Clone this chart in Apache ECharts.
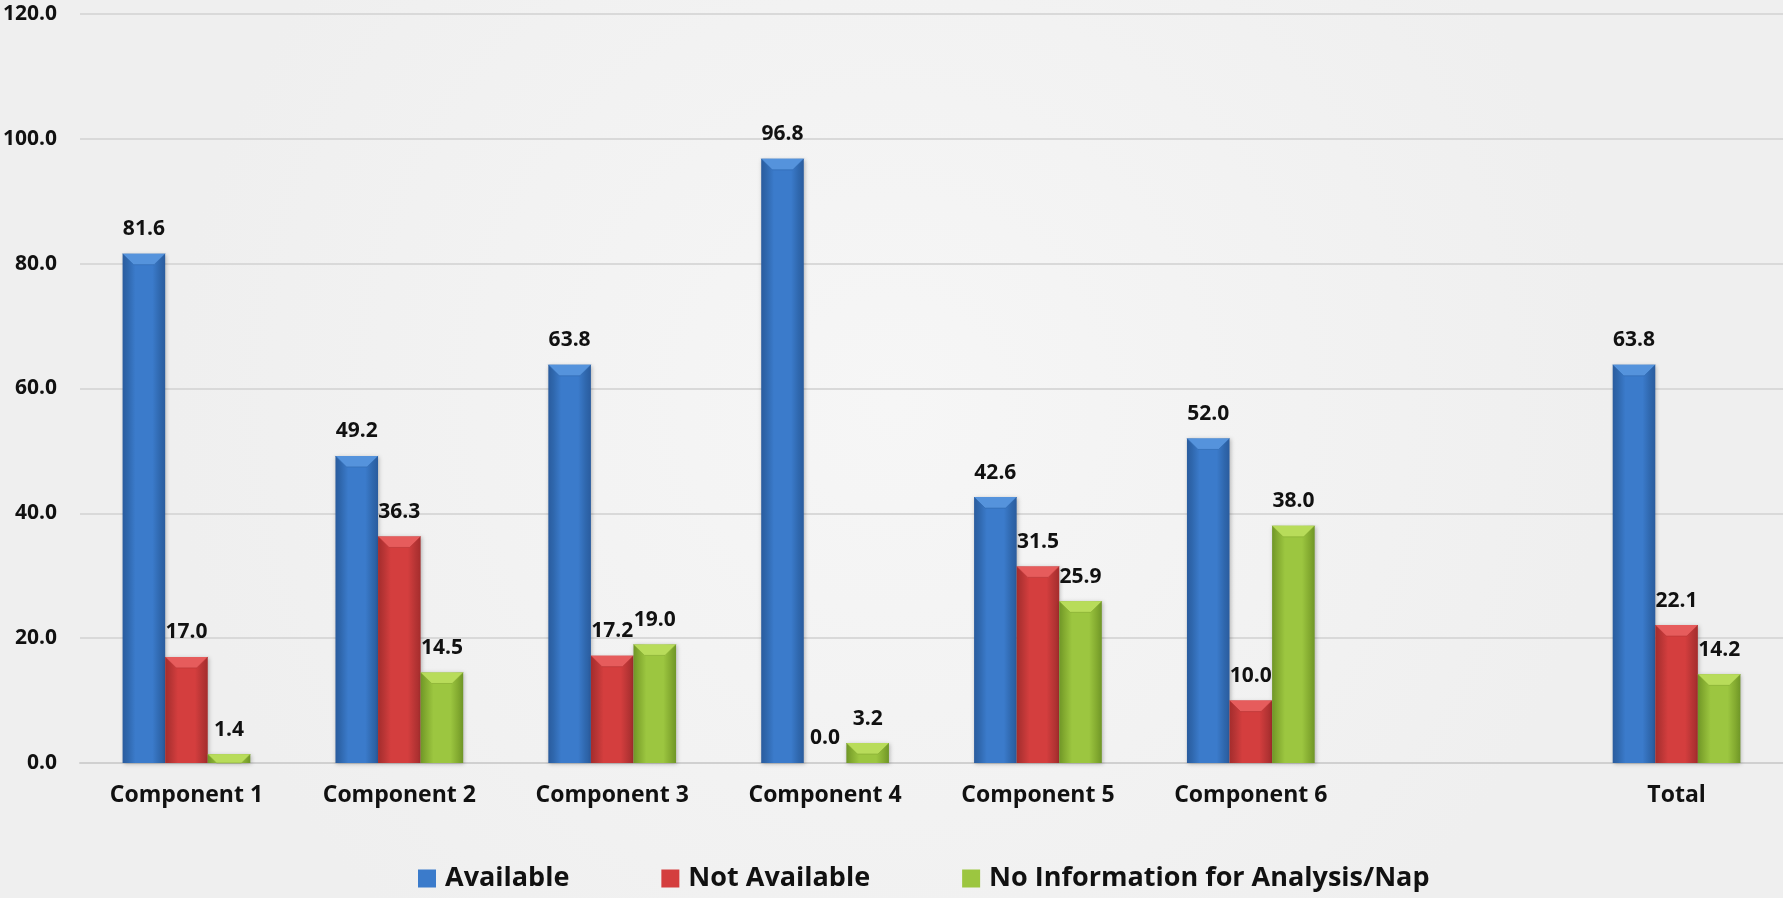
<!DOCTYPE html>
<html>
<head>
<meta charset="utf-8">
<script src="https://cdn.jsdelivr.net/npm/echarts@6/dist/echarts.min.js"></script>
<style>html,body{margin:0;padding:0;background:#f2f2f2;}#chart{width:1783px;height:898px;}</style>
</head>
<body>
<div id="chart"></div>
<script>
const categories = ['Component 1', 'Component 2', 'Component 3', 'Component 4', 'Component 5', 'Component 6', '', 'Total'];
const seriesNames = ['Available', 'Not Available', 'No Information for Analysis/Nap'];
const available = [81.6, 49.2, 63.8, 96.8, 42.6, 52.0, null, 63.8];
const notAvailable = [17.0, 36.3, 17.2, 0.0, 31.5, 10.0, null, 22.1];
const noInfo = [1.4, 14.5, 19.0, 3.2, 25.9, 38.0, null, 14.2];
const yTicks = [0, 20, 40, 60, 80, 100, 120];

const FONT = '"Open Sans", "Noto Sans", sans-serif';
const palettes = [
  { face: '#3b7bcb', dark: '#2a5c9e', light: '#5593dc', side: '#2f67ad' },
  { face: '#d43e3e', dark: '#a52c2c', light: '#e65c5c', side: '#b53434' },
  { face: '#9cc640', dark: '#6f9627', light: '#b8dc5a', side: '#83aa30' }
];
const valuesList = [available, notAvailable, noInfo];

function renderBar(params, api) {
  const sIdx = params.seriesIndex;
  const pal = palettes[sIdx];
  const idx = api.value(0);
  const v = api.value(1);
  const p0 = api.coord([idx, 0]);
  const p1 = api.coord([idx, v]);
  const band = api.size([1, 0])[0];
  const bw = band * 0.2;
  const x = p0[0] + (sIdx - 1) * bw - bw / 2;
  const yTop = p1[1];
  const yBot = p0[1];
  const h = yBot - yTop;
  const b = Math.max(0, Math.min(11, h, bw / 2));
  const grad = new echarts.graphic.LinearGradient(0, 0, 1, 0, [
    { offset: 0, color: pal.dark },
    { offset: 0.12, color: pal.side },
    { offset: 0.3, color: pal.face },
    { offset: 0.7, color: pal.face },
    { offset: 0.88, color: pal.side },
    { offset: 1, color: pal.dark }
  ]);
  const children = [
    {
      type: 'rect',
      shape: { x: x, y: yTop, width: bw, height: h },
      style: { fill: grad, shadowBlur: 4, shadowColor: 'rgba(0,0,0,0.25)', shadowOffsetX: 1, shadowOffsetY: 1 },
      textContent: {
        type: 'text',
        style: { text: v.toFixed(1), fontSize: 21, fontWeight: 'bold', fontFamily: FONT, fill: '#111' }
      },
      textConfig: { position: 'top', distance: 14 }
    }
  ];
  if (b > 0) {
    children.push({
      type: 'polygon',
      shape: { points: [[x, yTop], [x + bw, yTop], [x + bw - b, yTop + b], [x + b, yTop + b]] },
      style: { fill: pal.light }
    });
    children.push({
      type: 'polyline',
      shape: { points: [[x, yTop], [x + b, yTop + b], [x + bw - b, yTop + b], [x + bw, yTop]] },
      style: { stroke: pal.side, lineWidth: 1, fill: null, opacity: 0.6 }
    });
  }
  return { type: 'group', children: children };
}

function buildData(arr) {
  const out = [];
  arr.forEach(function (v, i) { if (v !== null) out.push([i, v]); });
  return out;
}

const chart = echarts.init(document.getElementById('chart'));
chart.setOption({
  backgroundColor: new echarts.graphic.RadialGradient(0.5, 0.45, 0.8, [
    { offset: 0, color: '#f6f6f6' },
    { offset: 1, color: '#efefef' }
  ]),
  animation: false,
  grid: { left: 79, right: 0, top: 14, bottom: 135, containLabel: false },
  legend: {
    bottom: 1,
    left: 413,
    itemWidth: 18,
    itemHeight: 18,
    itemGap: 92,
    icon: 'rect',
    data: seriesNames,
    textStyle: { fontSize: 27, fontWeight: 'bold', fontFamily: FONT, color: '#111', padding: [0, 0, 0, 4] }
  },
  xAxis: {
    type: 'category',
    data: categories,
    axisLine: { lineStyle: { color: '#d0d0d0', width: 2 } },
    axisTick: { show: false },
    axisLabel: { margin: 21, fontSize: 23, fontWeight: 'bold', fontFamily: FONT, color: '#111', interval: 0 },
    splitLine: { show: false }
  },
  yAxis: {
    type: 'value',
    min: yTicks[0],
    max: yTicks[yTicks.length - 1],
    interval: yTicks[1] - yTicks[0],
    axisLine: { show: false },
    axisTick: { show: false },
    axisLabel: {
      margin: 23, fontSize: 21, fontWeight: 'bold', fontFamily: FONT, color: '#111',
      formatter: function (v) { return v.toFixed(1); }
    },
    splitLine: { lineStyle: { color: '#d9d9d9', width: 2 } }
  },
  series: seriesNames.map(function (name, i) {
    return {
      name: name,
      type: 'custom',
      renderItem: renderBar,
      itemStyle: { color: palettes[i].face },
      encode: { x: 0, y: 1 },
      data: buildData(valuesList[i]),
      z: 3
    };
  })
});
</script>
</body>
</html>
